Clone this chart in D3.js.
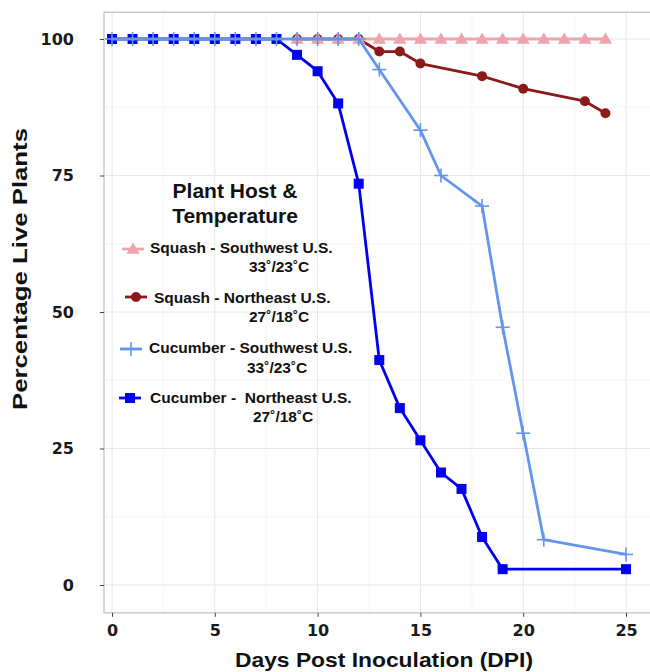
<!DOCTYPE html>
<html><head><meta charset="utf-8">
<script src="https://cdn.jsdelivr.net/npm/d3@7"></script>
<style>body{margin:0;background:#fff}svg{display:block}text{white-space:pre}</style>
</head><body>
<script>
// ---- data ----
const squashSWDays = [9,10,11,12,13,14,15,16,17,18,19,20,21,22,23,24];
const squashSWValues = [100,100,100,100,100,100,100,100,100,100,100,100,100,100,100,100];
const squashNEDays = [9,10,11,12,13,14,15,18,20,23,24];
const squashNEValues = [100,100,100,100,97.7,97.7,95.5,93.2,90.9,88.6,86.4];
const cucSWDays = [0,1,2,3,4,5,6,7,8,9,10,11,12,13,15,16,18,19,20,21,25];
const cucSWValues = [100,100,100,100,100,100,100,100,100,100,100,100,100,94.4,83.3,75,69.4,47.2,27.8,8.3,5.6];
const cucNEDays = [0,1,2,3,4,5,6,7,8,9,10,11,12,13,14,15,16,17,18,19,25];
const cucNEValues = [100,100,100,100,100,100,100,100,100,97.1,94.1,88.2,73.5,41.2,32.4,26.5,20.6,17.6,8.8,2.9,2.9];
const xTicks = [0,5,10,15,20,25];
const yTicks = [0,25,50,75,100];
const xMinor = [2.5,7.5,12.5,17.5,22.5];
const yMinor = [12.5,37.5,62.5,87.5];
const seriesNames = ["Squash - Southwest U.S.","Squash - Northeast U.S.","Cucumber - Southwest U.S.","Cucumber -  Northeast U.S."];
const seriesTemps = ["33˚/23˚C","27˚/18˚C","33˚/23˚C","27˚/18˚C"];
const legendTitle = ["Plant Host &","Temperature"];
const xTitle = "Days Post Inoculation (DPI)";
const yTitle = "Percentage Live Plants";

const W = 650, H = 672;
const svg = d3.select("body").append("svg").attr("width", W).attr("height", H);
const x = d3.scaleLinear().domain([0,25]).range([112,626]);
const y = d3.scaleLinear().domain([0,100]).range([585,39]);
const pL = 104, pR = 660, pT = y(104.9), pB = y(-5.1);

// drawing order bottom -> top; name = index in seriesNames
const series = [
  {name:3, days:cucNEDays, vals:cucNEValues, color:"#0000EE", shape:"square"},
  {name:1, days:squashNEDays, vals:squashNEValues, color:"#8B1A1A", shape:"circle"},
  {name:0, days:squashSWDays, vals:squashSWValues, color:"#EFA3AC", shape:"triangle"},
  {name:2, days:cucSWDays, vals:cucSWValues, color:"#6495ED", shape:"cross"}
];
const legendOrder = [2,1,3,0];

// panel
svg.append("rect").attr("x",pL).attr("y",pT).attr("width",pR-pL).attr("height",pB-pT).attr("fill","#fff");
const grid = svg.append("g");
xMinor.forEach(v=>grid.append("line").attr("x1",x(v)).attr("x2",x(v)).attr("y1",pT).attr("y2",pB).attr("stroke","#f4f4f4").attr("stroke-width",0.8));
yMinor.forEach(v=>grid.append("line").attr("y1",y(v)).attr("y2",y(v)).attr("x1",pL).attr("x2",pR).attr("stroke","#f4f4f4").attr("stroke-width",0.8));
xTicks.forEach(v=>grid.append("line").attr("x1",x(v)).attr("x2",x(v)).attr("y1",pT).attr("y2",pB).attr("stroke","#e6e6e6").attr("stroke-width",1));
yTicks.forEach(v=>grid.append("line").attr("y1",y(v)).attr("y2",y(v)).attr("x1",pL).attr("x2",pR).attr("stroke","#e6e6e6").attr("stroke-width",1));
svg.append("rect").attr("x",pL).attr("y",pT).attr("width",pR-pL).attr("height",pB-pT).attr("fill","none").attr("stroke","#bdbdbd").attr("stroke-width",1.2);

// axes
const xAxis = d3.axisBottom(x).tickValues(xTicks).tickSize(4).tickPadding(8).tickFormat(d3.format("d"));
const gx = svg.append("g").attr("transform",`translate(0,${pB})`).call(xAxis);
const yAxis = d3.axisLeft(y).tickValues(yTicks).tickSize(4).tickPadding(26).tickFormat(d3.format("d"));
const gy = svg.append("g").attr("transform",`translate(${pL},0)`).call(yAxis);
[gx,gy].forEach(g=>{
  g.select(".domain").remove();
  g.selectAll(".tick line").attr("stroke","#444").attr("stroke-width",1);
  g.selectAll(".tick text").attr("fill","#1a1a1a").style("font-family","'DejaVu Sans'").style("font-weight","bold").style("font-size","16px");
});

// symbols
function drawSymbol(g, shape, cx, cy, color){
  if(shape==="square") g.append("rect").attr("x",cx-5).attr("y",cy-5).attr("width",10).attr("height",10).attr("fill",color);
  else if(shape==="circle") g.append("circle").attr("cx",cx).attr("cy",cy).attr("r",5).attr("fill",color);
  else if(shape==="triangle") g.append("path").attr("d",d3.symbol().type(d3.symbolTriangle).size(75)()).attr("transform",`translate(${cx},${cy+1})`).attr("fill",color);
  else if(shape==="cross"){
    g.append("line").attr("x1",cx-7).attr("x2",cx+7).attr("y1",cy).attr("y2",cy).attr("stroke",color).attr("stroke-width",1.6);
    g.append("line").attr("x1",cx).attr("x2",cx).attr("y1",cy-7).attr("y2",cy+7).attr("stroke",color).attr("stroke-width",1.6);
  }
}

// series
const line = d3.line().x(d=>x(d[0])).y(d=>y(d[1]));
series.forEach(s=>{
  const pts = s.days.map((d,i)=>[d,s.vals[i]]);
  const g = svg.append("g");
  g.append("path").attr("d",line(pts)).attr("fill","none").attr("stroke",s.color).attr("stroke-width",2.8).attr("stroke-linejoin","round");
  pts.forEach(p=>drawSymbol(g,s.shape,x(p[0]),y(p[1]),s.color));
});

// legend
const lg = svg.append("g").style("font-family","'Liberation Sans', Arial, sans-serif").style("font-weight","bold").attr("fill","#111");
lg.append("text").attr("x",235).attr("y",198).attr("text-anchor","middle").style("font-size","21px").text(legendTitle[0]);
lg.append("text").attr("x",235).attr("y",223).attr("text-anchor","middle").style("font-size","21px").text(legendTitle[1]);
const keyY = [249,297,349,398];
const keyX0 = [122,125,120,119];
const lab1X = [150,154,149,150];
const lab2X = [249,249,247,253];
const lab1Y = [253,303,353,403];
const lab2Y = [272,322,373,422];
legendOrder.forEach((si,i)=>{
  const s = series[si];
  lg.append("line").attr("x1",keyX0[i]).attr("x2",keyX0[i]+22).attr("y1",keyY[i]).attr("y2",keyY[i]).attr("stroke",s.color).attr("stroke-width",2.8);
  drawSymbol(lg,s.shape,keyX0[i]+11,keyY[i],s.color);
  lg.append("text").attr("x",lab1X[i]).attr("y",lab1Y[i]).style("font-size","15.5px").text(seriesNames[s.name]);
  lg.append("text").attr("x",lab2X[i]).attr("y",lab2Y[i]).style("font-size","15.5px").text(seriesTemps[s.name]);
});

// axis titles
svg.append("text").attr("x",384).attr("y",667).attr("text-anchor","middle")
  .attr("textLength",298).attr("lengthAdjust","spacingAndGlyphs")
  .style("font-family","'Liberation Sans', Arial, sans-serif").style("font-weight","bold").style("font-size","21px").attr("fill","#111").text(xTitle);
svg.append("text").attr("transform","translate(27,269) rotate(-90)").attr("text-anchor","middle")
  .attr("textLength",282).attr("lengthAdjust","spacingAndGlyphs")
  .style("font-family","'Liberation Sans', Arial, sans-serif").style("font-weight","bold").style("font-size","21px").attr("fill","#111").text(yTitle);
</script>
</body></html>
